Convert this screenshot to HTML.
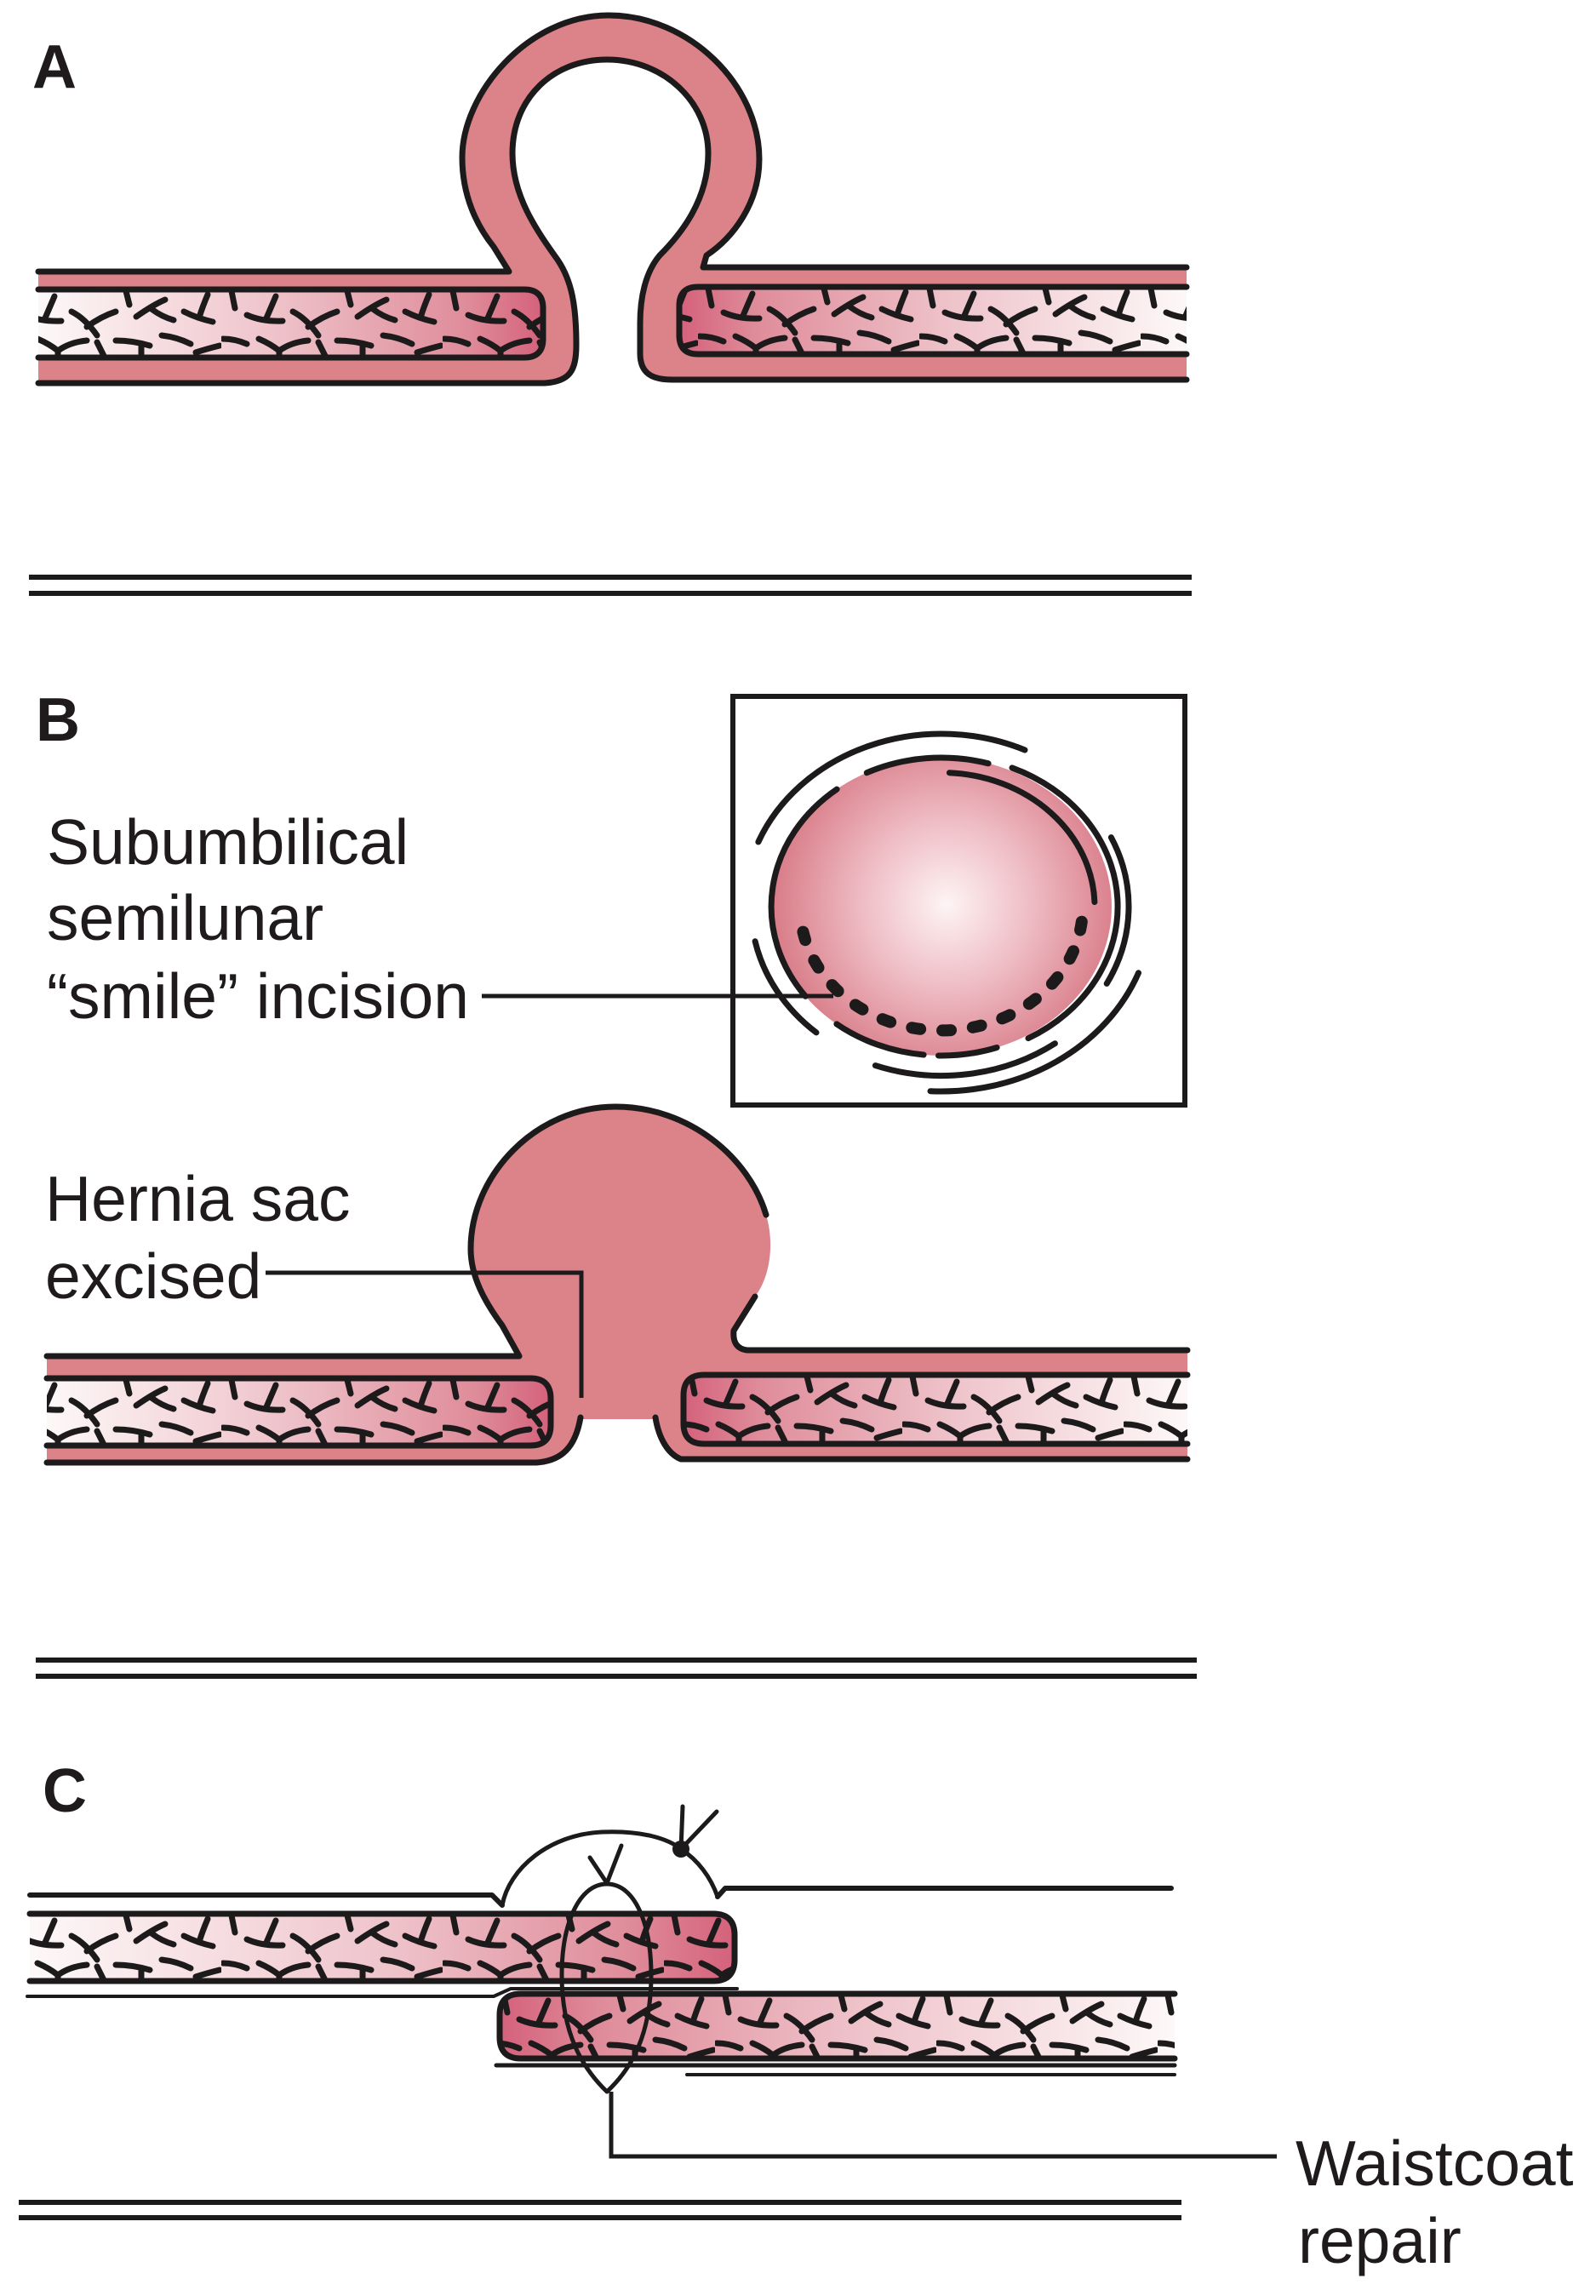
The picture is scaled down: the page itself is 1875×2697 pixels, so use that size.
<!DOCTYPE html>
<html>
<head>
<meta charset="utf-8">
<style>
  html, body { margin:0; padding:0; background:#ffffff; }
  body { width:1875px; height:2697px; overflow:hidden; }
  svg { display:block; }
  .lbl { font-family:"Liberation Sans", Arial, sans-serif; font-weight:bold; font-size:72px; fill:#1f1b1c; }
  .txt { font-family:"Liberation Sans", Arial, sans-serif; font-size:75px; fill:#1f1b1c; }
</style>
</head>
<body>
<svg width="1875" height="2697" viewBox="0 0 1875 2697" xmlns="http://www.w3.org/2000/svg">
<defs>
  <pattern id="tex" patternUnits="userSpaceOnUse" width="260" height="80">
    <g fill="none" stroke="#1d1a1b" stroke-width="7" stroke-linecap="round">
      <path d="M12,2 L16,22"/>
      <path d="M30,30 Q48,38 72,37 M52,36 Q58,22 64,8"/>
      <path d="M84,26 Q100,34 114,54 M102,44 Q118,32 136,26"/>
      <path d="M148,2 L152,18"/>
      <path d="M160,32 Q180,18 194,12 M178,23 Q190,32 204,36"/>
      <path d="M2,58 Q16,58 30,64"/>
      <path d="M44,58 Q58,64 68,72 M68,72 Q82,62 102,60 M68,72 L68,80"/>
      <path d="M114,62 L122,78"/>
      <path d="M136,60 Q156,60 176,66 M166,64 L166,80"/>
      <path d="M190,54 Q208,56 224,64"/>
      <path d="M216,26 Q232,34 250,38 M234,33 Q238,20 244,6"/>
      <path d="M230,74 Q242,70 258,66"/>
    </g>
  </pattern>

  <linearGradient id="gA1" gradientUnits="userSpaceOnUse" x1="45" y1="0" x2="638" y2="0">
    <stop offset="0" stop-color="#fdf8f8"/><stop offset="0.45" stop-color="#efc5cc"/>
    <stop offset="0.85" stop-color="#df8c9a"/><stop offset="1" stop-color="#d4617b"/>
  </linearGradient>
  <linearGradient id="gA2" gradientUnits="userSpaceOnUse" x1="798" y1="0" x2="1394" y2="0">
    <stop offset="0" stop-color="#d4617b"/><stop offset="0.15" stop-color="#df8c9a"/>
    <stop offset="0.55" stop-color="#efc5cc"/><stop offset="1" stop-color="#fdf8f8"/>
  </linearGradient>
  <linearGradient id="gB1" gradientUnits="userSpaceOnUse" x1="55" y1="0" x2="647" y2="0">
    <stop offset="0" stop-color="#fdf8f8"/><stop offset="0.45" stop-color="#efc5cc"/>
    <stop offset="0.85" stop-color="#df8c9a"/><stop offset="1" stop-color="#d4617b"/>
  </linearGradient>
  <linearGradient id="gB2" gradientUnits="userSpaceOnUse" x1="803" y1="0" x2="1395" y2="0">
    <stop offset="0" stop-color="#d4617b"/><stop offset="0.15" stop-color="#df8c9a"/>
    <stop offset="0.55" stop-color="#efc5cc"/><stop offset="1" stop-color="#fdf8f8"/>
  </linearGradient>
  <linearGradient id="gC1" gradientUnits="userSpaceOnUse" x1="35" y1="0" x2="863" y2="0">
    <stop offset="0" stop-color="#fdf8f8"/><stop offset="0.5" stop-color="#efc5cc"/>
    <stop offset="0.85" stop-color="#df8c9a"/><stop offset="1" stop-color="#d4617b"/>
  </linearGradient>
  <linearGradient id="gC2" gradientUnits="userSpaceOnUse" x1="587" y1="0" x2="1380" y2="0">
    <stop offset="0" stop-color="#d4617b"/><stop offset="0.15" stop-color="#df8c9a"/>
    <stop offset="0.55" stop-color="#efc5cc"/><stop offset="1" stop-color="#fdf8f8"/>
  </linearGradient>
  <radialGradient id="gE" gradientUnits="userSpaceOnUse" cx="1112" cy="1062" r="205">
    <stop offset="0" stop-color="#fdf4f5"/><stop offset="0.5" stop-color="#eebac2"/>
    <stop offset="1" stop-color="#d87c88"/>
  </radialGradient>

  <clipPath id="cA1"><path d="M45,340 H616 Q638,340 638,362 V398 Q638,420 616,420 H45 Z"/></clipPath>
  <clipPath id="cA2"><path d="M1394,337 H820 Q798,337 798,359 V394 Q798,416 820,416 H1394 Z"/></clipPath>
  <clipPath id="cB1"><path d="M55,1619 H623 Q647,1619 647,1643 V1674 Q647,1698 623,1698 H55 Z"/></clipPath>
  <clipPath id="cB2"><path d="M1395,1615 H827 Q803,1615 803,1639 V1672 Q803,1696 827,1696 H1395 Z"/></clipPath>
  <clipPath id="cC1"><path d="M35,2248 H838 Q863,2248 863,2273 V2302 Q863,2327 838,2327 H35 Z"/></clipPath>
  <clipPath id="cC2"><path d="M1380,2342 H612 Q587,2342 587,2367 V2393 Q587,2418 612,2418 H1380 Z"/></clipPath>
</defs>

<rect x="0" y="0" width="1875" height="2697" fill="#ffffff"/>

<!-- ================= PANEL A ================= -->
<text class="lbl" x="38" y="103">A</text>

<path fill="#dc8289" d="M45,319 H598 L580,290 C560,265 543,230 543,185 C543,110 620,18 715,18 C810,18 892,100 892,187 C892,240 860,280 830,300 L826,314 H1394 V446 H790 C765,446 752,438 752,415 L752,380 C752,350 758,320 775,300 C800,275 832,235 832,180 C832,120 780,70 713,70 C650,70 602,115 602,180 C602,230 630,270 655,305 C672,330 677,360 677,405 C677,435 670,448 640,450 H45 Z"/>

<path fill="url(#gA1)" d="M45,340 H616 Q638,340 638,362 V398 Q638,420 616,420 H45 Z"/>
<g clip-path="url(#cA1)"><g transform="translate(0,340)"><rect x="0" y="0" width="700" height="80" fill="url(#tex)"/></g></g>
<path fill="url(#gA2)" d="M1394,337 H820 Q798,337 798,359 V394 Q798,416 820,416 H1394 Z"/>
<g clip-path="url(#cA2)"><g transform="translate(40,337)"><rect x="740" y="0" width="660" height="80" fill="url(#tex)"/></g></g>

<g fill="none" stroke="#1d1a1b" stroke-width="7" stroke-linejoin="round" stroke-linecap="round">
  <path d="M45,319 H598 L580,290 C560,265 543,230 543,185 C543,110 620,18 715,18 C810,18 892,100 892,187 C892,240 860,280 830,300 L826,314 H1394"/>
  <path d="M45,450 H640 C670,448 677,435 677,405 C677,360 672,330 655,305 C630,270 602,230 602,180 C602,115 650,70 713,70 C780,70 832,120 832,180 C832,235 800,275 775,300 C758,320 752,350 752,380 L752,415 C752,438 765,446 790,446 H1394"/>
  <path d="M45,340 H616 Q638,340 638,362 V398 Q638,420 616,420 H45"/>
  <path d="M1394,337 H820 Q798,337 798,359 V394 Q798,416 820,416 H1394"/>
</g>
<g stroke="#1d1a1b" stroke-width="6">
  <line x1="34" y1="678" x2="1400" y2="678"/>
  <line x1="34" y1="697" x2="1400" y2="697"/>
</g>

<!-- ================= PANEL B ================= -->
<text class="lbl" x="42" y="870">B</text>

<text class="txt" x="55" y="1015">Subumbilical</text>
<text class="txt" x="55" y="1104">semilunar</text>
<text class="txt" x="55" y="1196">“smile” incision</text>

<rect x="861" y="818" width="531" height="480" fill="none" stroke="#1d1a1b" stroke-width="6"/>
<ellipse cx="1106" cy="1065" rx="200" ry="175" fill="url(#gE)"/>
<g fill="none" stroke="#1d1a1b" stroke-width="7" stroke-linecap="round">
  <path d="M946.3,1170.3 A200,175 0 0 1 983.1,927.1"/>
  <path d="M1018.3,907.7 A200,175 0 0 1 1161.1,896.8"/>
  <path d="M1115.4,907.7 A180,157.5 0 0 1 1285.9,1059.5"/>
  <path d="M1189,901.9 A202,176.5 0 0 1 1208,1219.6"/>
  <path d="M1171.1,1230.5 A200,175 0 0 1 1102.5,1240"/>
  <path d="M1085.1,1239 A200,175 0 0 1 982.9,1202.9"/>
  <path d="M890.9,989 A232,203 0 0 1 1204,881"/>
  <path d="M1305.4,983.6 A220,192.5 0 0 1 1300.2,1155.4"/>
  <path d="M1337.5,1142.8 A248,217 0 0 1 1093,1281.7"/>
  <path d="M1239.4,1225.7 A227,198.6 0 0 1 1028.4,1251.6"/>
  <path d="M959,1212.9 A224,196 0 0 1 887.1,1105.7"/>
</g>
<path d="M1270.8,1082.7 A166,145.25 0 0 1 941.6,1085.2" fill="none" stroke="#1d1a1b" stroke-width="14" stroke-linecap="round" stroke-dasharray="10 26"/>
<line x1="566" y1="1170" x2="979" y2="1170" stroke="#1d1a1b" stroke-width="5"/>

<path fill="#dc8289" d="M55,1593 H610 L590,1557 C570,1530 553,1500 553,1467 C553,1380 630,1300 723,1300 C810,1300 880,1360 900,1427 C910,1460 905,1500 887,1523 L862,1563 Q860,1584 878,1586 H1395 V1714 H800 C785,1708 774,1690 770,1667 H682 C676,1700 660,1716 630,1718 H55 Z"/>

<path fill="url(#gB1)" d="M55,1619 H623 Q647,1619 647,1643 V1674 Q647,1698 623,1698 H55 Z"/>
<g clip-path="url(#cB1)"><g transform="translate(0,1619)"><rect x="0" y="0" width="700" height="80" fill="url(#tex)"/></g></g>
<path fill="url(#gB2)" d="M1395,1615 H827 Q803,1615 803,1639 V1672 Q803,1696 827,1696 H1395 Z"/>
<g clip-path="url(#cB2)"><g transform="translate(20,1615)"><rect x="760" y="0" width="660" height="80" fill="url(#tex)"/></g></g>

<g fill="none" stroke="#1d1a1b" stroke-width="7" stroke-linejoin="round" stroke-linecap="round">
  <path d="M55,1593 H610 L590,1557 C570,1530 553,1500 553,1467 C553,1380 630,1300 723,1300 C810,1300 880,1360 900,1427"/>
  <path d="M887,1523 L862,1563 Q860,1584 878,1586 H1395"/>
  <path d="M55,1718 H630 C660,1716 676,1700 682,1665"/>
  <path d="M770,1665 C774,1690 785,1708 800,1714 H1395"/>
  <path d="M55,1619 H623 Q647,1619 647,1643 V1674 Q647,1698 623,1698 H55"/>
  <path d="M1395,1615 H827 Q803,1615 803,1639 V1672 Q803,1696 827,1696 H1395"/>
</g>
<path d="M312,1495 H683 V1642" fill="none" stroke="#1d1a1b" stroke-width="5"/>

<text class="txt" x="53" y="1434">Hernia sac</text>
<text class="txt" x="53" y="1525">excised</text>

<g stroke="#1d1a1b" stroke-width="6">
  <line x1="42" y1="1950" x2="1406" y2="1950"/>
  <line x1="42" y1="1969" x2="1406" y2="1969"/>
</g>

<!-- ================= PANEL C ================= -->
<text class="lbl" x="50" y="2128">C</text>

<path fill="url(#gC1)" d="M35,2248 H838 Q863,2248 863,2273 V2302 Q863,2327 838,2327 H35 Z"/>
<g clip-path="url(#cC1)"><g transform="translate(0,2248)"><rect x="0" y="0" width="900" height="80" fill="url(#tex)"/></g></g>
<path fill="url(#gC2)" d="M1380,2342 H612 Q587,2342 587,2367 V2393 Q587,2418 612,2418 H1380 Z"/>
<g clip-path="url(#cC2)"><g transform="translate(60,2342)"><rect x="500" y="0" width="900" height="80" fill="url(#tex)"/></g></g>

<g fill="none" stroke="#1d1a1b" stroke-width="7" stroke-linejoin="round" stroke-linecap="round">
  <path d="M35,2248 H838 Q863,2248 863,2273 V2302 Q863,2327 838,2327 H35"/>
  <path d="M1380,2342 H612 Q587,2342 587,2367 V2393 Q587,2418 612,2418 H1380"/>
</g>
<g fill="none" stroke="#1d1a1b" stroke-linecap="round" stroke-linejoin="round">
  <path d="M35,2226 H578 L590,2238" stroke-width="6"/>
  <path d="M590,2238 C598,2195 645,2155 707,2152 C755,2150 785,2160 800,2172 C820,2185 835,2205 843,2228" stroke-width="5"/>
  <path d="M843,2228 L852,2218 H1376" stroke-width="6"/>
  <path d="M800,2172 L802,2122 M800,2172 L842,2128" stroke-width="5"/>
  <path d="M32,2345 H580 L600,2336 H866" stroke-width="4"/>
  <path d="M583,2426 H1380" stroke-width="5"/>
  <path d="M807,2437 H1380" stroke-width="4"/>
  <path d="M713,2213 C680,2213 660,2260 660,2320 C660,2390 685,2430 713,2457 C742,2430 765,2390 765,2320 C765,2260 746,2213 713,2213 Z" stroke-width="5"/>
  <path d="M713,2212 L693,2182 M713,2212 L730,2168" stroke-width="5"/>
</g>
<circle cx="800" cy="2172" r="10" fill="#1d1a1b"/>
<path d="M718,2457 V2533 H1500" fill="none" stroke="#1d1a1b" stroke-width="5"/>

<text class="txt" x="1522" y="2567">Waistcoat</text>
<text class="txt" x="1525" y="2658">repair</text>

<g stroke="#1d1a1b" stroke-width="6">
  <line x1="22" y1="2587" x2="1388" y2="2587"/>
  <line x1="22" y1="2605" x2="1388" y2="2605"/>
</g>
</svg>
</body>
</html>
